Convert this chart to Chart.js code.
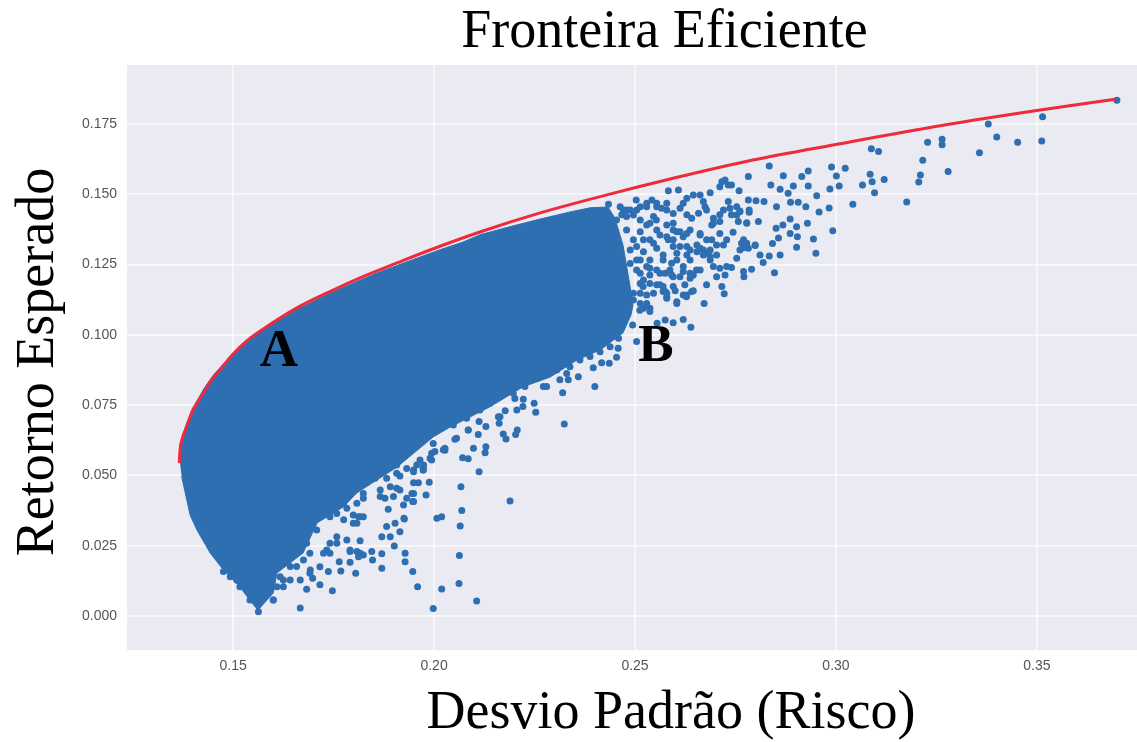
<!DOCTYPE html>
<html>
<head>
<meta charset="utf-8">
<title>Fronteira Eficiente</title>
<script src="https://cdn.jsdelivr.net/npm/chart.js@4/dist/chart.umd.min.js"></script>
<style>
  html, body { margin: 0; padding: 0; background: #fff; }
  canvas { display: block; }
</style>
</head>
<body>
<canvas id="chart" width="1137" height="742"></canvas>
<script>
const xTicks = [0.15, 0.20, 0.25, 0.30, 0.35];
const yTicks = [0, 0.025, 0.05, 0.075, 0.1, 0.125, 0.15, 0.175];

// Curva vermelha (risco, retorno)
const frontierX = [0.1366, 0.1368, 0.1374, 0.1381, 0.1391, 0.1400, 0.1415, 0.1430, 0.1450, 0.1473, 0.1500, 0.1537, 0.1575, 0.1659, 0.1741, 0.1823, 0.1908, 0.1990, 0.2114, 0.2264, 0.2430, 0.2595, 0.2793, 0.3010, 0.3259, 0.3508, 0.3695];
const frontierY = [0.0544, 0.0591, 0.0633, 0.0662, 0.0701, 0.0733, 0.0768, 0.0804, 0.0847, 0.0886, 0.0932, 0.0982, 0.1021, 0.1096, 0.1154, 0.1207, 0.1256, 0.1302, 0.1366, 0.1434, 0.1498, 0.1557, 0.1622, 0.1680, 0.1744, 0.1800, 0.1838];

// Contorno da massa densa de carteiras (pontos demais para ler um a um)
const denseX = [0.1368, 0.1370, 0.1380, 0.1398, 0.1428, 0.1450, 0.1500, 0.1575, 0.1659, 0.1741, 0.1784, 0.1858, 0.1933, 0.2015, 0.2072, 0.2114, 0.2189, 0.2264, 0.2338, 0.2388, 0.2433, 0.2450, 0.2470, 0.2485, 0.2495, 0.2490, 0.2470, 0.2413, 0.2356, 0.2289, 0.2221, 0.2139, 0.2040, 0.1998, 0.1908, 0.1808, 0.1774, 0.1709, 0.1674, 0.1609, 0.1600, 0.1562, 0.1547, 0.1517, 0.1472, 0.1443, 0.1410, 0.1393, 0.1372];
const denseY = [0.0544, 0.0600, 0.0665, 0.0735, 0.0810, 0.0855, 0.0935, 0.1020, 0.1090, 0.1148, 0.1175, 0.1220, 0.1260, 0.1303, 0.1330, 0.1356, 0.1385, 0.1412, 0.1437, 0.1452, 0.1455, 0.1415, 0.1320, 0.1195, 0.1106, 0.1071, 0.1007, 0.0946, 0.0911, 0.0850, 0.0815, 0.0744, 0.0672, 0.0637, 0.0530, 0.0438, 0.0388, 0.0331, 0.0224, 0.0153, 0.0082, 0.0021, 0.0046, 0.0103, 0.0171, 0.0224, 0.0306, 0.0359, 0.0496];

// Carteiras isoladas, lidas uma a uma: [risco, retorno]
const upperRightPoints = [
  [0.3699,0.1835],[0.3514,0.1776],[0.3512,0.1690],[0.3452,0.1685],[0.3400,0.1704],[0.3379,0.1750],[0.3357,0.1648],[0.3279,0.1581],[0.3264,0.1696],[0.3264,0.1676],
  [0.3228,0.1685],[0.3216,0.1621],[0.3210,0.1569],[0.3206,0.1544],[0.3176,0.1473],[0.3120,0.1553],[0.3096,0.1506],[0.3090,0.1545],[0.3085,0.1571],[0.3066,0.1533],
  [0.3106,0.1652],[0.3088,0.1662],[0.3042,0.1465],[0.3023,0.1593],[0.2989,0.1597],[0.3001,0.1565],[0.3008,0.1530],[0.2985,0.1519],[0.2983,0.1451],[0.2992,0.1370],
  [0.2958,0.1437],[0.2952,0.1495],[0.2931,0.1530],[0.2931,0.1583],[0.2915,0.1563],[0.2894,0.1530],[0.2881,0.1504],[0.2861,0.1518],[0.2838,0.1533],[0.2869,0.1566],
  [0.2834,0.1601],[0.2782,0.1563],[0.2925,0.1456],[0.2906,0.1472],[0.2887,0.1472],[0.2852,0.1456],[0.2821,0.1474],[0.2801,0.1477],[0.2782,0.1480],[0.2784,0.1436],
  [0.2761,0.1441],[0.2807,0.1403],[0.2778,0.1397],[0.2886,0.1412],[0.2868,0.1391],[0.2851,0.1379],[0.2902,0.1385],[0.2929,0.1397],[0.2886,0.1361],[0.2904,0.1349],
  [0.2944,0.1341],[0.2902,0.1312],[0.2950,0.1290],[0.2857,0.1345],[0.2842,0.1325],[0.2799,0.1318],[0.2770,0.1310],[0.2811,0.1284],[0.2834,0.1281],[0.2861,0.1284],
  [0.2819,0.1257],[0.2790,0.1233],[0.2847,0.1221]
];
const clusterPoints = [
  [0.2716,0.1545],[0.2732,0.1533],[0.2759,0.1513],[0.2687,0.1506],[0.2608,0.1515],[0.2583,0.1513],[0.2542,0.1480],[0.2503,0.1480],[0.2434,0.1465],[0.2620,0.1468],
  [0.2645,0.1498],[0.2670,0.1474],[0.2658,0.1433],[0.2629,0.1427],[0.2612,0.1450],[0.2629,0.1486],[0.2662,0.1498],[0.2674,0.1456],[0.2641,0.1415],[0.2732,0.1474],
  [0.2753,0.1456],[0.2720,0.1444],[0.2740,0.1427],[0.2695,0.1415],[0.2711,0.1427],[0.2757,0.1403],[0.2778,0.1399],[0.2784,0.1444],[0.2691,0.1391],[0.2711,0.1361],
  [0.2744,0.1365],[0.2691,0.1338],[0.2720,0.1320],[0.2765,0.1326],[0.2782,0.1308],[0.2799,0.1320],[0.2753,0.1273],[0.2740,0.1240],[0.2770,0.1225],[0.2771,0.1207],
  [0.2711,0.1237],[0.2724,0.1213],[0.2703,0.1207],[0.2678,0.1178],[0.2716,0.1172],[0.2722,0.1146],[0.2672,0.1112],[0.2620,0.1142],[0.2645,0.1157],[0.2624,0.1178],
  [0.2604,0.1112],[0.2600,0.1157],[0.2579,0.1130],[0.2562,0.1178],[0.2645,0.1213],[0.2620,0.1225],[0.2662,0.1231],[0.2682,0.1290],[0.2662,0.1308],[0.2629,0.1314],
  [0.2604,0.1290],[0.2583,0.1338],[0.2553,0.1409],[0.2566,0.1450],[0.2529,0.1391],[0.2488,0.1444],[0.2467,0.1427],[0.2537,0.1237],[0.2575,0.1219],[0.2520,0.1172],
  [0.2537,0.1095],[0.2575,0.1053],[0.2595,0.1043],[0.2620,0.1055],[0.2639,0.1027],[0.2555,0.1041],[0.2504,0.0976],[0.2494,0.1035],
  [0.2471,0.1444],[0.2504,0.1444],[0.2529,0.1456],[0.2554,0.1456],[0.2579,0.1444],[0.2421,0.1421],[0.2454,0.1409],[0.2479,0.1421],[0.2513,0.1409],[0.2546,0.1421],
  [0.2595,0.1397],[0.2405,0.1385],[0.2479,0.1373],[0.2513,0.1367],[0.2554,0.1373],[0.2604,0.1367],[0.2637,0.1373],[0.2496,0.1338],[0.2537,0.1338],[0.2579,0.1349],
  [0.2620,0.1349],[0.2662,0.1355],[0.2488,0.1302],[0.2521,0.1296],[0.2554,0.1308],[0.2595,0.1314],[0.2637,0.1302],[0.2670,0.1302],[0.2504,0.1266],[0.2537,0.1266],
  [0.2570,0.1266],[0.2604,0.1266],[0.2637,0.1266],[0.2687,0.1278],[0.2513,0.1219],[0.2554,0.1231],[0.2587,0.1231],[0.2637,0.1219],[0.2537,0.1183],[0.2570,0.1172],
  [0.2595,0.1207],[0.2546,0.1148],[0.2513,0.1148],[0.2579,0.1148],[0.2513,0.1112],[0.2488,0.1124],
  [0.2355,0.1427],[0.2313,0.1403],[0.2276,0.1398],[0.2413,0.1439],
  [0.2479,0.1444],[0.2463,0.1456],[0.2595,0.1432],[0.2579,0.1468],[0.2554,0.1468],[0.2529,0.1468],[0.2513,0.1456],[0.2496,0.1426],[0.2537,0.1397],[0.2579,0.1391],
  [0.2595,0.1373],[0.2612,0.1367],[0.2629,0.1361],[0.2662,0.1361],[0.2678,0.1338],[0.2654,0.1320],[0.2687,0.1302],[0.2703,0.1284],[0.2687,0.1266],[0.2670,0.1284],
  [0.2654,0.1296],[0.2629,0.1284],[0.2612,0.1314],[0.2595,0.1338],[0.2562,0.1355],[0.2546,0.1326],[0.2521,0.1338],[0.2504,0.1314],[0.2570,0.1284],[0.2591,0.1255],
  [0.2620,0.1243],[0.2653,0.1231],[0.2637,0.1201],[0.2612,0.1207],[0.2591,0.1213],[0.2562,0.1219],[0.2529,0.1243],[0.2504,0.1231],[0.2537,0.1213],[0.2521,0.1195],
  [0.2554,0.1178],[0.2575,0.1154],[0.2595,0.1172],[0.2628,0.1136],[0.2641,0.1154],[0.2695,0.1243],[0.2728,0.1243],[0.2761,0.1302],[0.2778,0.1326],[0.2770,0.1338],
  [0.2703,0.1320],[0.2728,0.1338],[0.2711,0.1403],[0.2695,0.1397],[0.2736,0.1450],[0.2753,0.1426],[0.2761,0.1438],[0.2711,0.1527],[0.2724,0.1551],[0.2740,0.1533],
  [0.2678,0.1444],[0.2513,0.1266],[0.2488,0.1254],[0.2513,0.1183],[0.2496,0.1148],[0.2529,0.1112],[0.2521,0.1095]
];
const lowerEdgePoints = [
  [0.2454,0.0920],[0.2436,0.0899],[0.2417,0.0901],[0.2396,0.0883],[0.2458,0.0952],[0.2400,0.0816],[0.2359,0.0851],[0.2320,0.0794],[0.2324,0.0683],[0.2249,0.0757],
  [0.2253,0.0725],[0.2222,0.0771],[0.2221,0.0745],[0.2206,0.0733],[0.2177,0.0730],[0.2160,0.0709],[0.2162,0.0686],[0.2112,0.0692],[0.2129,0.0674],[0.2110,0.0646],
  [0.2207,0.0662],[0.2203,0.0646],[0.2172,0.0647],[0.2179,0.0630],[0.2129,0.0602],[0.2127,0.0581],[0.2098,0.0597],[0.2085,0.0559],[0.2071,0.0563],[0.2112,0.0513],
  [0.2067,0.0460],[0.2189,0.0409],[0.2069,0.0375],[0.2065,0.0320],[0.2019,0.0353],[0.2007,0.0348],[0.1988,0.0476],[0.1980,0.0430],[0.1961,0.0474],[0.1949,0.0474],
  [0.1945,0.0436],[0.1947,0.0407],[0.1925,0.0348],[0.2027,0.0597],[0.2002,0.0585],[0.1994,0.0555],[0.1973,0.0519],[0.1949,0.0513],[0.1915,0.0498],[0.2052,0.0629],
  [0.2085,0.0662],[0.2201,0.0774],[0.2280,0.0816],[0.2334,0.0840],
  [0.2106,0.0053],[0.1998,0.0027],[0.2062,0.0116],[0.2019,0.0096],[0.1959,0.0104],[0.1947,0.0158],[0.1928,0.0193],[0.1928,0.0223],[0.2063,0.0215],[0.1901,0.0249],
  [0.1870,0.0170],[0.1870,0.0221],[0.1845,0.0229],[0.1847,0.0199],[0.1824,0.0217],[0.1808,0.0229],[0.1812,0.0211],[0.1791,0.0229],[0.1791,0.0191],[0.1764,0.0193],
  [0.1768,0.0160],[0.1805,0.0152],[0.1747,0.0090],[0.1716,0.0111],[0.1683,0.0095],[0.1667,0.0028],[0.1737,0.0158],[0.1716,0.0175],[0.1698,0.0134],[0.1667,0.0128],
  [0.1816,0.0268],[0.1870,0.0282],[0.1891,0.0282],[0.1915,0.0300],[0.1882,0.0318],[0.1903,0.0330],[0.1926,0.0345],[0.1886,0.0380],[0.1924,0.0395],[0.1907,0.0454],
  [0.1878,0.0419],[0.1866,0.0448],[0.1824,0.0419],[0.1812,0.0353],[0.1808,0.0330],[0.2023,0.0591],[0.1990,0.0561],[0.1973,0.0525],[0.1758,0.0259],[0.1733,0.0235],
  [0.1691,0.0223],[0.1691,0.0152],[0.1625,0.0104],[0.1642,0.0128],[0.1600,0.0057],[0.1563,0.0015],[0.1559,0.0045],[0.1542,0.0057],[0.1517,0.0104],[0.1538,0.0093],
  [0.1575,0.0069],[0.1588,0.0104]
];
// Franja logo abaixo da massa densa
const fringePoints = [
  [0.1775,0.0436],[0.1775,0.0401],[0.1791,0.0460],[0.1824,0.0484],[0.1841,0.0496],[0.1857,0.0519],[0.1824,0.0436],[0.1808,0.0401],[0.1783,0.0383],[0.1799,0.0359],
  [0.1816,0.0353],[0.1799,0.0330],[0.1775,0.0342],[0.1758,0.0365],[0.1741,0.0353],[0.1758,0.0282],[0.1783,0.0270],[0.1741,0.0259],[0.1741,0.0223],[0.1708,0.0306],
  [0.1683,0.0294],[0.1692,0.0365],[0.1658,0.0282],[0.1683,0.0259],[0.1642,0.0235],[0.1634,0.0199],[0.1667,0.0235],[0.1675,0.0199],[0.1692,0.0164],[0.1725,0.0223],
  [0.1658,0.0176],[0.1642,0.0176],[0.1617,0.0140],[0.1600,0.0164],[0.1592,0.0128],[0.1609,0.0104],[0.1625,0.0128],[0.1584,0.0081],[0.1600,0.0057],[0.1559,0.0128],
  [0.1534,0.0104],[0.1509,0.0128],[0.1493,0.0140],[0.1476,0.0158],[0.1866,0.0425],[0.1891,0.0460],[0.1907,0.0508],[0.1932,0.0525],[0.1957,0.0537],[0.1974,0.0537],
  [0.1899,0.0425],[0.1932,0.0419],[0.1949,0.0436],[0.1949,0.0407],[0.1882,0.0490],[0.1915,0.0448],[0.1824,0.0353],[0.1791,0.0235],[0.1816,0.0223],[0.1853,0.0490],
  [0.1870,0.0519],[0.1907,0.0537],
  [0.2330,0.0863],[0.2305,0.0875],[0.2280,0.0863],[0.2255,0.0845],[0.2272,0.0816],[0.2313,0.0840],[0.2338,0.0887],[0.2363,0.0911],[0.2388,0.0923],[0.2413,0.0940],
  [0.2438,0.0958],[0.2459,0.0988],[0.2405,0.0964],[0.2430,0.1000],[0.2454,0.1041],[0.2479,0.1065],[0.2512,0.1088],[0.2537,0.1083],[0.2496,0.1124],[0.2529,0.1142],
  [0.2570,0.1154],[0.2604,0.1118],[0.2629,0.1142],[0.2579,0.1136],[0.2226,0.0816],[0.2197,0.0792],[0.2164,0.0780],[0.2139,0.0757],[0.2114,0.0733],[0.2081,0.0703],
  [0.2048,0.0679],[0.2023,0.0673],[0.1998,0.0614],[0.2027,0.0590],[0.2056,0.0632],[0.1965,0.0555],[0.1994,0.0579],[0.1949,0.0519],[0.1973,0.0519],[0.2085,0.0662],
  [0.2164,0.0709]
];

const markerNames = ['A', 'B'];
const markerX = [0.1614, 0.2552];
const markerY = [0.0939, 0.0957];

const BLUE = '#2e6fb2';
const SERIF = '"Liberation Serif", serif';
const TICK_FONT = { family: '"Liberation Sans", sans-serif', size: 14 };

const scatterPoints = upperRightPoints.concat(clusterPoints, lowerEdgePoints, fringePoints).map(p => ({ x: p[0], y: p[1] }));

const plotDecorations = {
    id: 'plotDecorations',
    afterLayout(chart) {
        // o titulo do original nao fica centrado no grafico
        chart.titleBlock.left += 96;
        chart.titleBlock.right += 96;
    },
    beforeDraw(chart) {
        const a = chart.chartArea;
        chart.ctx.save();
        chart.ctx.fillStyle = '#eaeaf2';
        chart.ctx.fillRect(a.left, a.top, a.right - a.left, a.bottom - a.top);
        chart.ctx.restore();
    },
    afterDraw(chart) {
        const ctx = chart.ctx;
        ctx.save();
        ctx.fillStyle = '#000';
        ctx.textAlign = 'center';
        ctx.textBaseline = 'middle';
        ctx.font = 'bold 53px ' + SERIF;
        markerNames.forEach((name, i) => {
            ctx.fillText(name, chart.scales.x.getPixelForValue(markerX[i]), chart.scales.y.getPixelForValue(markerY[i]));
        });
        // titulos dos eixos, deslocados como no original
        ctx.font = '54px ' + SERIF;
        ctx.fillText('Desvio Padrão (Risco)', 671, 714);
        ctx.translate(39, 362);
        ctx.rotate(-Math.PI / 2);
        ctx.fillText('Retorno Esperado', 0, 0);
        ctx.restore();
    }
};

new Chart(document.getElementById('chart'), {
    type: 'scatter',
    data: {
        datasets: [
            {
                label: 'Fronteira',
                data: frontierX.map((x, i) => ({ x: x, y: frontierY[i] })),
                showLine: true,
                borderColor: '#ee2a3c',
                borderWidth: 3,
                cubicInterpolationMode: 'monotone',
                pointRadius: 0,
                order: 1
            },
            {
                label: 'Carteiras',
                data: scatterPoints,
                backgroundColor: BLUE,
                borderColor: BLUE,
                borderWidth: 0,
                pointRadius: 3.5,
                order: 2
            },
            {
                label: 'Carteiras (massa densa)',
                data: denseX.map((x, i) => ({ x: x, y: denseY[i] })),
                showLine: true,
                fill: 'shape',
                backgroundColor: BLUE,
                borderColor: BLUE,
                borderWidth: 1,
                pointRadius: 0,
                order: 3
            }
        ]
    },
    options: {
        responsive: false,
        animation: false,
        layout: { padding: 0, autoPadding: false },
        plugins: {
            legend: { display: false },
            tooltip: { enabled: false },
            title: {
                display: true,
                text: 'Fronteira Eficiente',
                color: '#000',
                font: { family: SERIF, size: 54, weight: 'normal', lineHeight: 1.1 },
                padding: { top: 3, bottom: 2.6 }
            }
        },
        scales: {
            x: {
                type: 'linear',
                min: 0.1236,
                max: 0.3749,
                afterBuildTicks: axis => { axis.ticks = xTicks.map(v => ({ value: v })); },
                afterFit: axis => { axis.height = 92; },
                grid: { color: 'rgba(255,255,255,0.6)', lineWidth: 2, drawTicks: false },
                border: { display: false },
                ticks: {
                    padding: 8,
                    color: '#555',
                    font: TICK_FONT,
                    maxRotation: 0,
                    callback: v => v.toFixed(2)
                }
            },
            y: {
                type: 'linear',
                min: -0.0121,
                max: 0.196,
                afterBuildTicks: axis => { axis.ticks = yTicks.map(v => ({ value: v })); },
                afterFit: axis => { axis.width = 127; },
                grid: { color: 'rgba(255,255,255,0.6)', lineWidth: 2, drawTicks: false },
                border: { display: false },
                ticks: {
                    padding: 10,
                    color: '#555',
                    font: TICK_FONT,
                    callback: v => v.toFixed(3)
                }
            }
        }
    },
    plugins: [plotDecorations]
});
</script>
</body>
</html>
